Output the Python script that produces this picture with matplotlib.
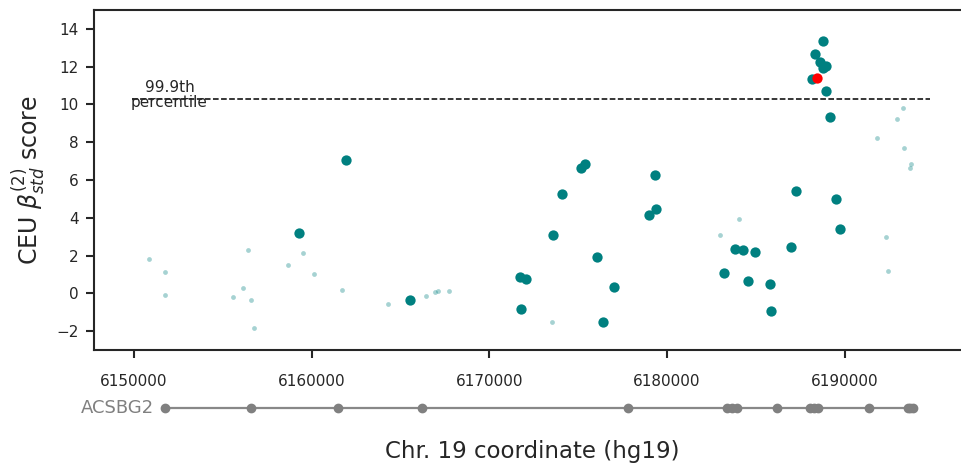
import matplotlib
matplotlib.use("Agg")
import matplotlib.pyplot as plt
import matplotlib.transforms as mtransforms

# significant SNPs (large teal)
sig_pos = [6161927, 6159300, 6165528, 6171700, 6172037, 6171773, 6173556, 6174096,
           6175356, 6175148, 6179328, 6179385, 6178957, 6176048, 6177005, 6176386,
           6187261, 6189495, 6189759, 6186980, 6183812, 6184302, 6184937, 6183210,
           6184544, 6185798, 6185855, 6188803, 6188330, 6188611, 6188932, 6188803,
           6188161, 6188949, 6189196]
sig_score = [7.07, 3.19, -0.34, 0.89, 0.78, -0.82, 3.10, 5.27,
             6.86, 6.66, 6.24, 4.46, 4.16, 1.92, 0.31, -1.51,
             5.43, 5.02, 3.42, 2.45, 2.36, 2.27, 2.20, 1.07,
             0.63, 0.52, -0.96, 13.34, 12.69, 12.23, 12.05, 11.93,
             11.35, 10.71, 9.35]

# other SNPs (small, faint)
oth_pos = [6150861, 6151727, 6151744, 6155553, 6156115, 6156430, 6156582, 6156768,
           6158681, 6159525, 6160127, 6161702, 6164273, 6166411, 6166951, 6167103,
           6167705, 6173534, 6184054, 6182985, 6193303, 6192926, 6191801, 6193318,
           6193752, 6193658, 6192324, 6192437]
oth_score = [1.81, 1.15, -0.10, -0.19, 0.28, 2.30, -0.36, -1.81,
             1.51, 2.13, 1.02, 0.17, -0.57, -0.13, 0.06, 0.13,
             0.10, -1.53, 3.93, 3.08, 9.81, 9.23, 8.24, 7.72,
             6.84, 6.63, 2.96, 1.19]

# highlighted SNP
top_pos = [6188465]
top_score = [11.38]

threshold = 10.3
thr_start, thr_end = 6149900, 6194800

# ACSBG2 exons
gene_name = "ACSBG2"
exons = [6151744, 6156582, 6161477, 6166203, 6177792, 6183362, 6183650, 6183925,
         6186175, 6188031, 6188250, 6188481, 6191350, 6193544, 6193700, 6193825]

xticks = [6150000, 6160000, 6170000, 6180000, 6190000]
yticks = [-2, 0, 2, 4, 6, 8, 10, 12, 14]

dark = "#262626"
teal = "#008080"

fig = plt.figure(figsize=(9.62, 4.67), dpi=100)
ax = fig.add_axes([0.0977, 0.2505, 0.9023, 0.7281])

ax.scatter(oth_pos, oth_score, s=12, color=teal, alpha=0.35, linewidths=0, zorder=2)
ax.scatter(sig_pos, sig_score, s=55, color=teal, linewidths=0, zorder=3)
ax.scatter(top_pos, top_score, s=55, color="red", linewidths=0, zorder=4)

ax.plot([thr_start, thr_end], [threshold, threshold], ls="--", color="black", lw=1.1, zorder=1)
ax.text(6152000, threshold + 0.2, "99.9th\npercentile", ha="center", va="center",
        fontsize=11, color=dark, linespacing=0.95)

ax.set_xlim(6147750, 6196600)
ax.set_ylim(-3, 15)
ax.set_xticks(xticks)
ax.set_xticklabels([str(t) for t in xticks])
ax.set_yticks(yticks)
ax.set_yticklabels(["\u2212" + str(-t) if t < 0 else str(t) for t in yticks])

for side in ["left", "bottom", "top"]:
    ax.spines[side].set_linewidth(1.5)
    ax.spines[side].set_color(dark)
ax.spines["right"].set_visible(False)
ax.tick_params(axis="x", length=6, width=1.5, color=dark, labelsize=11, labelcolor=dark, pad=11)
ax.tick_params(axis="y", length=6, width=1.5, color=dark, labelsize=11, labelcolor=dark, pad=5)

ax.set_ylabel(r"CEU $\beta^{(2)}_{std}$ score", fontsize=17, color=dark, labelpad=7)

# gene track below the axis
trans = mtransforms.blended_transform_factory(ax.transData, ax.transAxes)
gy = -0.171
ax.plot([exons[0], exons[-1]], [gy, gy], color="#888888", lw=1.6, transform=trans, clip_on=False)
ax.plot(exons, [gy] * len(exons), "o", color="#808080", ms=6, transform=trans, clip_on=False)
ax.annotate(gene_name, xy=(exons[0], gy), xycoords=trans, xytext=(-8, 0),
            textcoords="offset points", ha="right", va="center", fontsize=13, color="#808080")

fig.text(0.553, 0.033, "Chr. 19 coordinate (hg19)", ha="center", va="center",
         fontsize=16.5, color=dark)

fig.savefig("out.png", dpi=100)
